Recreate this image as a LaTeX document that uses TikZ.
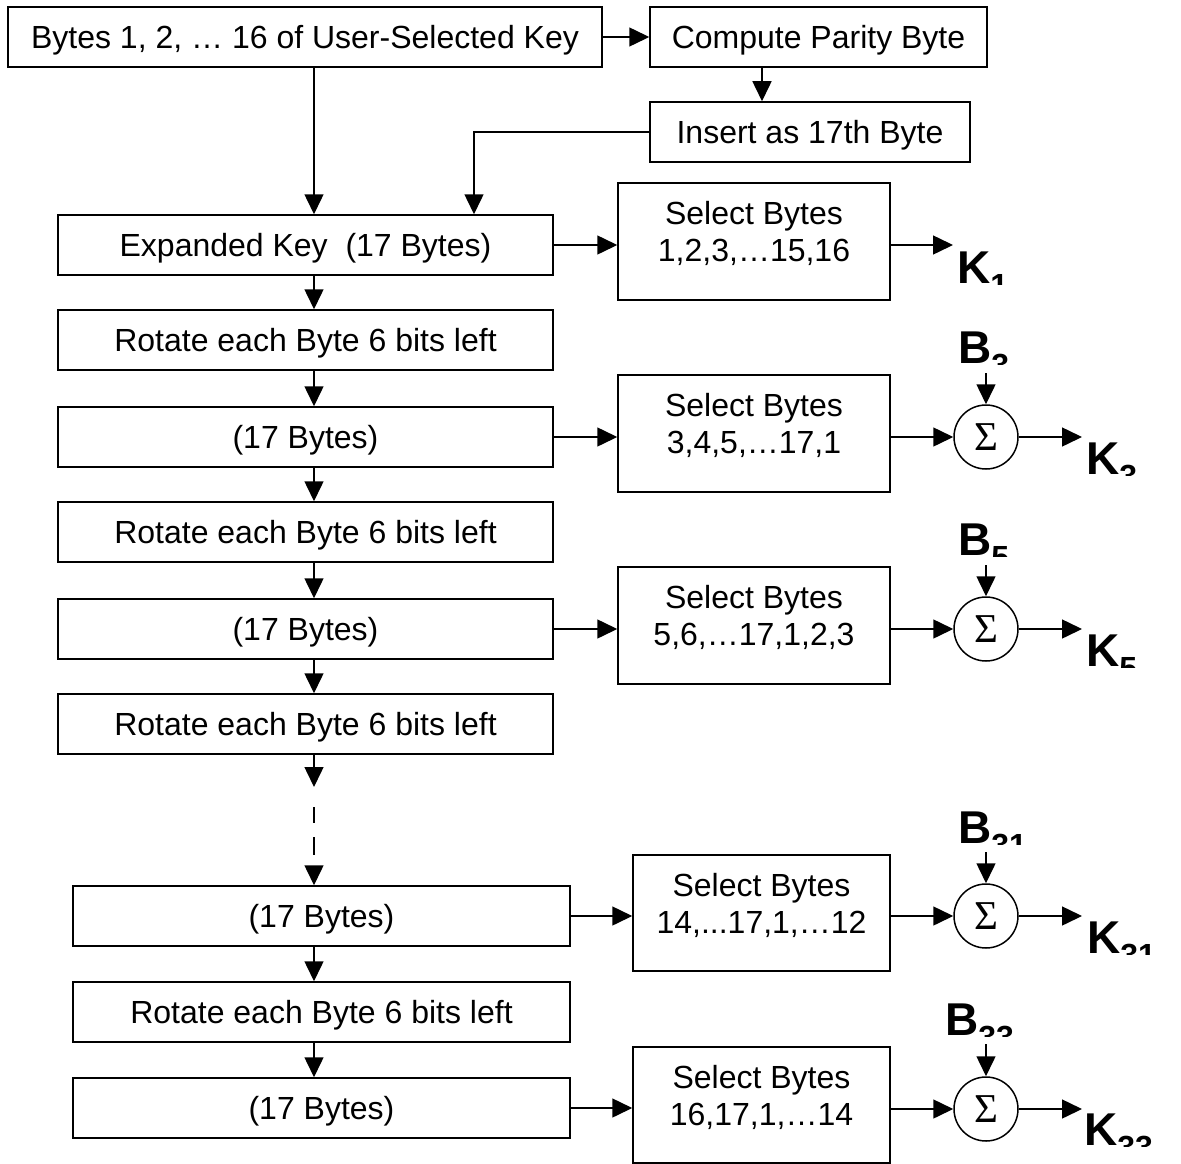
\documentclass[tikz,border=0pt]{standalone}
\usepackage{fontspec}
\setmainfont{Liberation Sans}
\newfontfamily\serifsig{Liberation Serif}
\usetikzlibrary{arrows.meta}
\newcommand\lsub[1]{\raisebox{-13pt}{\fontsize{32}{32}\selectfont #1}}
\newcommand\selt[2]{\raisebox{17pt}[0pt][0pt]{\begin{tabular}[t]{@{}c@{}}#1\\#2\end{tabular}}}
\begin{document}
\begin{tikzpicture}[x=1pt,y=-1pt,
  lw/.style={line width=1.5pt},
  box/.style={draw, lw, inner sep=0pt, font=\fontsize{32}{37}\selectfont, align=center},
  sbox/.style={box, text height=23pt, text depth=0pt},
  arr/.style={lw, -{Triangle[length=20pt,width=19pt]}},
  sig/.style={draw, lw, circle, minimum size=64pt, inner sep=0pt, text height=27pt, text depth=0pt, font=\serifsig\fontsize{41}{41}\selectfont},
  lbl/.style={anchor=base west, inner sep=0pt, font=\bfseries\fontsize{46}{46}\selectfont}]
\useasboundingbox (0,0) rectangle (1181,1164);
\fill[white] (0,0) rectangle (1181,1164);
% top part
\node[sbox, minimum width=594pt, minimum height=60pt] (top) at (305,37) {Bytes 1, 2, \dots\ 16 of User-Selected Key};
\node[sbox, minimum width=337pt, minimum height=60pt] (comp) at (818.5,37) {Compute Parity Byte};
\node[sbox, minimum width=320pt, minimum height=60pt] (ins) at (810,132) {Insert as 17th Byte};
% left column
\node[sbox, minimum width=495pt, minimum height=60pt] (exp) at (305.5,245) {Expanded Key\ \ (17 Bytes)};
\node[sbox, minimum width=495pt, minimum height=60pt] (rot1) at (305.5,340) {Rotate each Byte 6 bits left};
\node[sbox, minimum width=495pt, minimum height=60pt] (b2) at (305.5,437) {(17 Bytes)};
\node[sbox, minimum width=495pt, minimum height=60pt] (rot2) at (305.5,532) {Rotate each Byte 6 bits left};
\node[sbox, minimum width=495pt, minimum height=60pt] (b3) at (305.5,629) {(17 Bytes)};
\node[sbox, minimum width=495pt, minimum height=60pt] (rot3) at (305.5,724) {Rotate each Byte 6 bits left};
\node[sbox, minimum width=497pt, minimum height=60pt] (b4) at (321.5,916) {(17 Bytes)};
\node[sbox, minimum width=497pt, minimum height=60pt] (rot4) at (321.5,1012) {Rotate each Byte 6 bits left};
\node[sbox, minimum width=497pt, minimum height=60pt] (b5) at (321.5,1108) {(17 Bytes)};
% select boxes
\node[box, minimum width=272pt, minimum height=117pt] (s1) at (754,241.5) {\selt{Select Bytes}{1,2,3,\dots15,16}};
\node[box, minimum width=272pt, minimum height=117pt] (s2) at (754,433.5) {\selt{Select Bytes}{3,4,5,\dots17,1}};
\node[box, minimum width=272pt, minimum height=117pt] (s3) at (754,625.5) {\selt{Select Bytes}{5,6,\dots17,1,2,3}};
\node[box, minimum width=257pt, minimum height=116pt] (s4) at (761.5,913) {\selt{Select Bytes}{14,...17,1,\dots12}};
\node[box, minimum width=257pt, minimum height=116pt] (s5) at (761.5,1105) {\selt{Select Bytes}{16,17,1,\dots14}};
% sigma nodes
\node[sig] (g2) at (986,437) {Σ};
\node[sig] (g3) at (986,629) {Σ};
\node[sig] (g4) at (986,916) {Σ};
\node[sig] (g5) at (986,1109) {Σ};
% helper coordinates
\coordinate (vx) at (314,0);
\coordinate (ix) at (474,0);
\coordinate (cx) at (762,0);
\coordinate (k1t) at (953,245);
\coordinate (k2t) at (1082,437);
\coordinate (k3t) at (1082,629);
\coordinate (k4t) at (1082,916);
\coordinate (k5t) at (1082,1109);
\coordinate (bt2) at (986,373);
\coordinate (bt3) at (986,565);
\coordinate (bt4) at (986,852);
\coordinate (bt5) at (986,1044);
\coordinate (d0) at (314,787);
\coordinate (d1) at (314,866);
% connectors top
\draw[arr] (top.east) -- (comp.west);
\draw[arr] (comp.south -| cx) -- (ins.north -| cx);
\draw[arr] (top.south -| vx) -- (exp.north -| vx);
\draw[arr] (ins.west) -| (exp.north -| ix);
% vertical chain
\draw[arr] (exp.south -| vx) -- (rot1.north -| vx);
\draw[arr] (rot1.south -| vx) -- (b2.north -| vx);
\draw[arr] (b2.south -| vx) -- (rot2.north -| vx);
\draw[arr] (rot2.south -| vx) -- (b3.north -| vx);
\draw[arr] (b3.south -| vx) -- (rot3.north -| vx);
\draw[arr] (rot3.south -| vx) -- (d0);
\draw[lw, dash pattern=on 0pt off 20pt on 16pt off 14pt on 18pt off 40pt] (d0) -- (d1);
\draw[arr] (d1) -- (b4.north -| vx);
\draw[arr] (b4.south -| vx) -- (rot4.north -| vx);
\draw[arr] (rot4.south -| vx) -- (b5.north -| vx);
% horizontal rows
\draw[arr] (exp.east) -- (exp.east -| s1.west);
\draw[arr] (s1.east |- k1t) -- (k1t);
\draw[arr] (b2.east) -- (b2.east -| s2.west);
\draw[arr] (s2.east |- g2) -- (g2.west);
\draw[arr] (g2.east) -- (k2t);
\draw[arr] (bt2) -- (g2.north);
\draw[arr] (b3.east) -- (b3.east -| s3.west);
\draw[arr] (s3.east |- g3) -- (g3.west);
\draw[arr] (g3.east) -- (k3t);
\draw[arr] (bt3) -- (g3.north);
\draw[arr] (b4.east) -- (b4.east -| s4.west);
\draw[arr] (s4.east |- g4) -- (g4.west);
\draw[arr] (g4.east) -- (k4t);
\draw[arr] (bt4) -- (g4.north);
\draw[arr] (b5.east) -- (b5.east -| s5.west);
\draw[arr] (s5.east |- g5) -- (g5.west);
\draw[arr] (g5.east) -- (k5t);
\draw[arr] (bt5) -- (g5.north);
% labels (clipped at baseline as in the reference)
\begin{scope}\clip (950,230) rectangle (1060,284);
\node[lbl] (K1) at (957,283) {K\lsub{1}};\end{scope}
\begin{scope}\clip (950,310) rectangle (1060,364);
\node[lbl] (B3) at (958,363) {B\lsub{3}};\end{scope}
\begin{scope}\clip (1080,420) rectangle (1181,475);
\node[lbl] (K3) at (1086,474) {K\lsub{3}};\end{scope}
\begin{scope}\clip (950,502) rectangle (1060,556);
\node[lbl] (B5) at (958,555) {B\lsub{5}};\end{scope}
\begin{scope}\clip (1080,612) rectangle (1181,667);
\node[lbl] (K5) at (1086,666) {K\lsub{5}};\end{scope}
\begin{scope}\clip (950,790) rectangle (1060,844);
\node[lbl] (B31) at (958,843) {B\lsub{31}};\end{scope}
\begin{scope}\clip (1080,899) rectangle (1181,954);
\node[lbl] (K31) at (1087,953) {K\lsub{31}};\end{scope}
\begin{scope}\clip (930,982) rectangle (1060,1036);
\node[lbl] (B33) at (945,1035) {B\lsub{33}};\end{scope}
\begin{scope}\clip (1080,1091) rectangle (1181,1146);
\node[lbl] (K33) at (1084,1145) {K\lsub{33}};\end{scope}
\end{tikzpicture}
\end{document}
